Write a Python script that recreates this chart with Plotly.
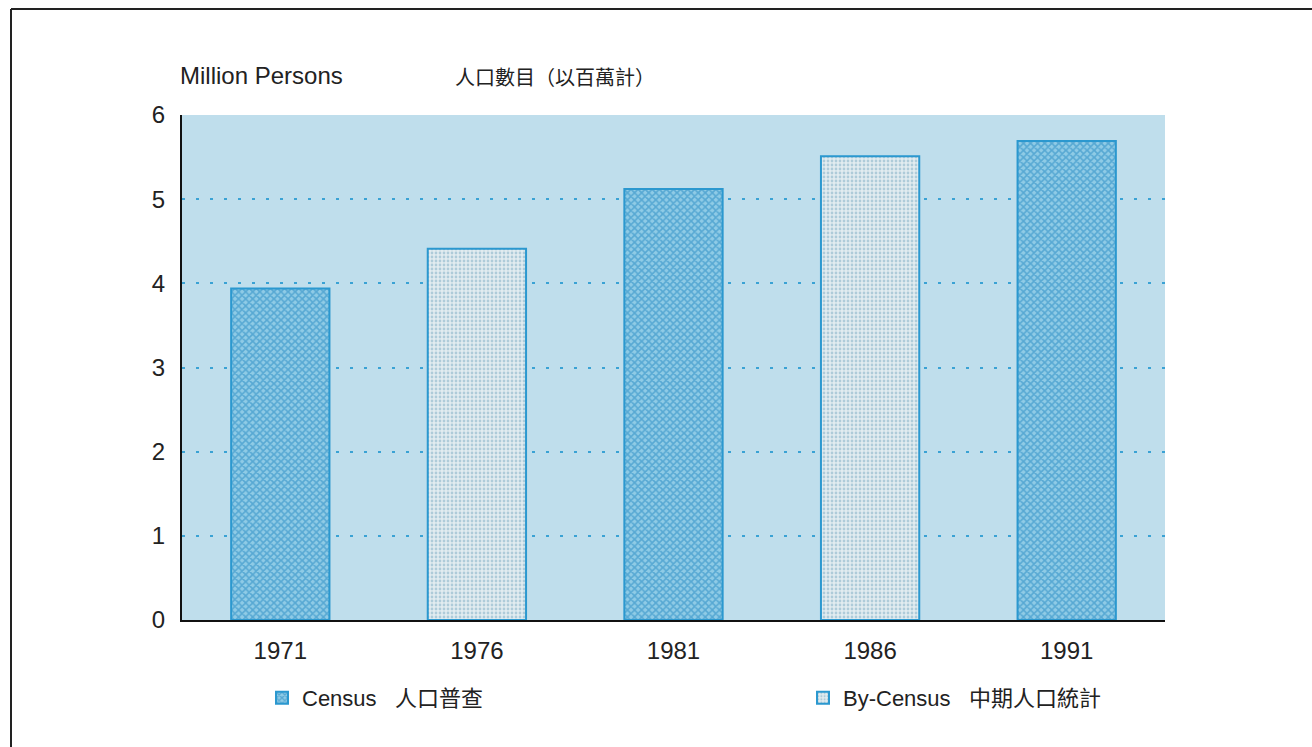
import plotly.graph_objects as go

# ---- data ----
years = ["1971", "1976", "1981", "1986", "1991"]
census_years = ["1971", "1981", "1991"]
census_values = [3.94, 5.12, 5.69]
bycensus_years = ["1976", "1986"]
bycensus_values = [4.41, 5.51]
y_ticks = [0, 1, 2, 3, 4, 5, 6]
grid_vals = [1, 2, 3, 4, 5]

title_en = "Million Persons"
title_zh = "人口數目（以百萬計）"
census_name = "Census&nbsp;&nbsp;&nbsp;人口普查"
bycensus_name = "By-Census&nbsp;&nbsp;&nbsp;中期人口統計"

FONT = "Liberation Sans, Arial, Noto Sans CJK TC, sans-serif"
CJK = "Noto Sans CJK TC, sans-serif"
W, H = 1312, 747
BLUE = "#2b98cf"

fig = go.Figure()
fig.add_trace(go.Bar(
    x=census_years, y=census_values, name=census_name, width=0.5,
    marker=dict(color="#4ea8d4",
                line=dict(color=BLUE, width=2),
                pattern=dict(shape="x", fgcolor="#1f86c0", bgcolor="#8fcbe6",
                             size=5, solidity=0.55, fillmode="overlay")),
))
fig.add_trace(go.Bar(
    x=bycensus_years, y=bycensus_values, name=bycensus_name, width=0.5,
    marker=dict(color="#dae7ed",
                line=dict(color=BLUE, width=2),
                pattern=dict(shape=".", fgcolor="#7aa9c2", bgcolor="#e2ecf0",
                             size=4, solidity=0.38, fillmode="overlay")),
))

x0, x1 = 182 / W, 1165 / W
y0, y1 = 1 - 620 / H, 1 - 115 / H

fig.update_layout(
    width=W, height=H, autosize=False,
    margin=dict(l=0, r=0, t=0, b=0, pad=0, autoexpand=False),
    paper_bgcolor="white",
    plot_bgcolor="#bfdeec",
    barmode="overlay",
    font=dict(family=FONT, size=22, color="#222222"),
    title=dict(text=title_en, x=180 / W, xanchor="left", xref="paper",
               y=1 - 76 / H, yanchor="middle", yref="paper",
               font=dict(family=FONT, size=24, color="#222222")),
    annotations=[
        dict(text=title_zh, xref="paper", yref="paper", x=453 / W, y=1 - 76 / H,
             xanchor="left", yanchor="middle", showarrow=False,
             font=dict(family=CJK, size=20, color="#222222")),
    ],
    xaxis=dict(domain=[x0, x1], type="category", categoryorder="array",
               categoryarray=years, range=[-0.5, 4.5],
               showline=True, linecolor="#111111", linewidth=2,
               showgrid=False, ticks="", ticklabelstandoff=8,
               tickfont=dict(family=FONT, size=24, color="#222222")),
    yaxis=dict(domain=[y0, y1], range=[0, 6], tickvals=y_ticks,
               showline=True, linecolor="#111111", linewidth=2,
               showgrid=False, zeroline=False, ticks="", ticklabelstandoff=10,
               tickfont=dict(family=FONT, size=24, color="#222222"),
               minor=dict(tickvals=grid_vals, showgrid=True, gridcolor="#3aa2d4",
                          griddash="3px,11px", gridwidth=2, ticks="")),
    legend=dict(orientation="h", x=262 / W, xanchor="left", y=1 - 698 / H,
                yanchor="middle", bgcolor="rgba(0,0,0,0)",
                entrywidth=496, entrywidthmode="pixels",
                font=dict(family=FONT, size=22, color="#222222")),
    shapes=[
        dict(type="line", xref="paper", yref="paper", x0=11 / W, x1=1.0,
             y0=1 - 9 / H, y1=1 - 9 / H, line=dict(color="#222222", width=2)),
        dict(type="line", xref="paper", yref="paper", x0=11 / W, x1=11 / W,
             y0=0, y1=1 - 9 / H, line=dict(color="#222222", width=2)),
    ],
)

fig.write_html("out.html", config={"displayModeBar": False},
               post_script="document.body.style.margin='0px';document.body.style.overflow='hidden';")
